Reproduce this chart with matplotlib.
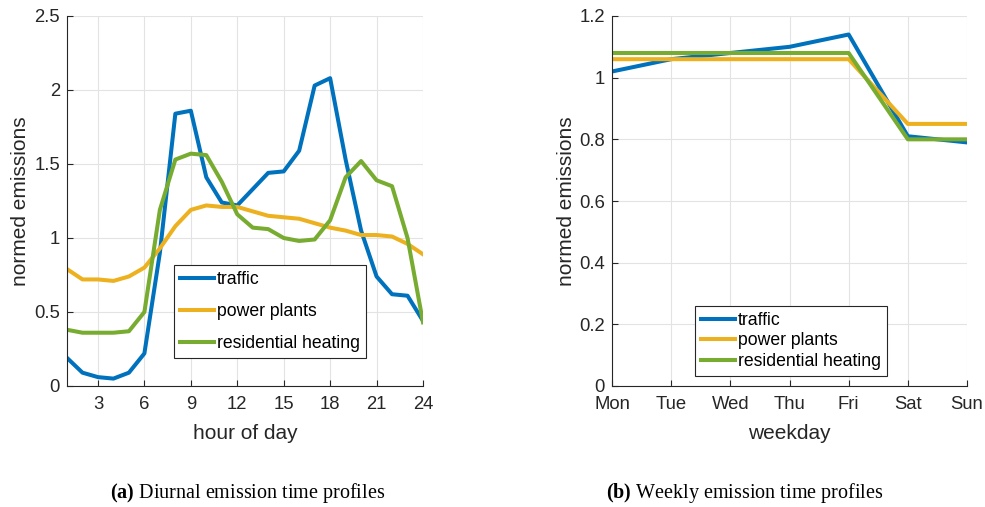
"""Diurnal and weekly emission time profiles, two panels side by side."""

import matplotlib

matplotlib.use("Agg")
import matplotlib.pyplot as plt

plt.rcParams["font.family"] = ["Liberation Sans", "DejaVu Sans"]
plt.rcParams["mathtext.fontset"] = "custom"
plt.rcParams["mathtext.rm"] = "Liberation Serif"
plt.rcParams["mathtext.bf"] = "Liberation Serif:bold"

hours = list(range(1, 25))
traffic_day = [0.19, 0.09, 0.06, 0.05, 0.09, 0.22, 0.90, 1.84, 1.86, 1.41, 1.24, 1.22,
               1.33, 1.44, 1.45, 1.59, 2.03, 2.08, 1.53, 1.05, 0.74, 0.62, 0.61, 0.44]
power_day = [0.79, 0.72, 0.72, 0.71, 0.74, 0.80, 0.93, 1.08, 1.19, 1.22, 1.21, 1.21,
             1.18, 1.15, 1.14, 1.13, 1.10, 1.07, 1.05, 1.02, 1.02, 1.01, 0.96, 0.89]
heating_day = [0.38, 0.36, 0.36, 0.36, 0.37, 0.50, 1.19, 1.53, 1.57, 1.56, 1.38, 1.16,
               1.07, 1.06, 1.00, 0.98, 0.99, 1.12, 1.41, 1.52, 1.39, 1.35, 1.00, 0.43]

weekdays = ["Mon", "Tue", "Wed", "Thu", "Fri", "Sat", "Sun"]
traffic_week = [1.02, 1.06, 1.08, 1.10, 1.14, 0.81, 0.79]
power_week = [1.06, 1.06, 1.06, 1.06, 1.06, 0.85, 0.85]
heating_week = [1.08, 1.08, 1.08, 1.08, 1.08, 0.80, 0.80]

labels = ["traffic", "power plants", "residential heating"]
colors = ["#0072BD", "#EDB120", "#77AC30"]

fig = plt.figure(figsize=(9.85, 5.07), dpi=100)
ax1 = fig.add_axes([67 / 985, 1 - 386 / 507, 356 / 985, 370 / 507])
ax2 = fig.add_axes([612 / 985, 1 - 386 / 507, 355 / 985, 370 / 507])


def style_axes(ax):
    ax.grid(True, color="#e3e3e3", linewidth=0.8)
    ax.set_axisbelow(True)
    for side in ("top", "right"):
        ax.spines[side].set_visible(False)
    for side in ("left", "bottom"):
        ax.spines[side].set_color("#262626")
        ax.spines[side].set_linewidth(0.8)
    ax.tick_params(direction="in", labelsize=13.3, colors="#262626", length=4)
    ax.tick_params(axis="x", pad=7)
    ax.tick_params(axis="y", pad=5)


def add_legend(ax, anchor, spacing):
    leg = ax.legend(loc="lower left", bbox_to_anchor=anchor, fontsize=12.7,
                    fancybox=False, edgecolor="#262626", framealpha=1,
                    handlelength=1.95, handletextpad=0.15, borderaxespad=0,
                    borderpad=0.35, labelspacing=spacing)
    leg.get_frame().set_linewidth(0.8)
    return leg


for series, c, lab in zip([traffic_day, power_day, heating_day], colors, labels):
    ax1.plot(hours, series, color=c, linewidth=2.9, label=lab)
ax1.set_xlim(1, 24)
ax1.set_ylim(0, 2.5)
ax1.set_xticks([3, 6, 9, 12, 15, 18, 21, 24])
ax1.set_yticks([0, 0.5, 1, 1.5, 2, 2.5])
ax1.set_yticklabels(["0", "0.5", "1", "1.5", "2", "2.5"])
ax1.set_xlabel("hour of day", fontsize=15, color="#262626", labelpad=8)
ax1.set_ylabel("normed emissions", fontsize=15, color="#262626", labelpad=3)
style_axes(ax1)
add_legend(ax1, (0.30, 0.075), 0.85)

x_week = list(range(len(weekdays)))
for series, c, lab in zip([traffic_week, power_week, heating_week], colors, labels):
    ax2.plot(x_week, series, color=c, linewidth=2.9, label=lab)
ax2.set_xlim(0, 6)
ax2.set_ylim(0, 1.2)
ax2.set_xticks(x_week)
ax2.set_xticklabels(weekdays)
ax2.set_yticks([0, 0.2, 0.4, 0.6, 0.8, 1.0, 1.2])
ax2.set_yticklabels(["0", "0.2", "0.4", "0.6", "0.8", "1", "1.2"])
ax2.set_xlabel("weekday", fontsize=15, color="#262626", labelpad=8)
ax2.set_ylabel("normed emissions", fontsize=15, color="#262626", labelpad=2)
style_axes(ax2)
add_legend(ax2, (0.233, 0.027), 0.2)

fig.text(248 / 985, 1 - 493 / 507, r"$\mathbf{(a)}$ Diurnal emission time profiles",
         ha="center", va="center", fontsize=14.5, family=["Liberation Serif", "DejaVu Serif"])
fig.text(745 / 985, 1 - 493 / 507, r"$\mathbf{(b)}$ Weekly emission time profiles",
         ha="center", va="center", fontsize=14.5, family=["Liberation Serif", "DejaVu Serif"])

fig.savefig("out.png", dpi=100)
